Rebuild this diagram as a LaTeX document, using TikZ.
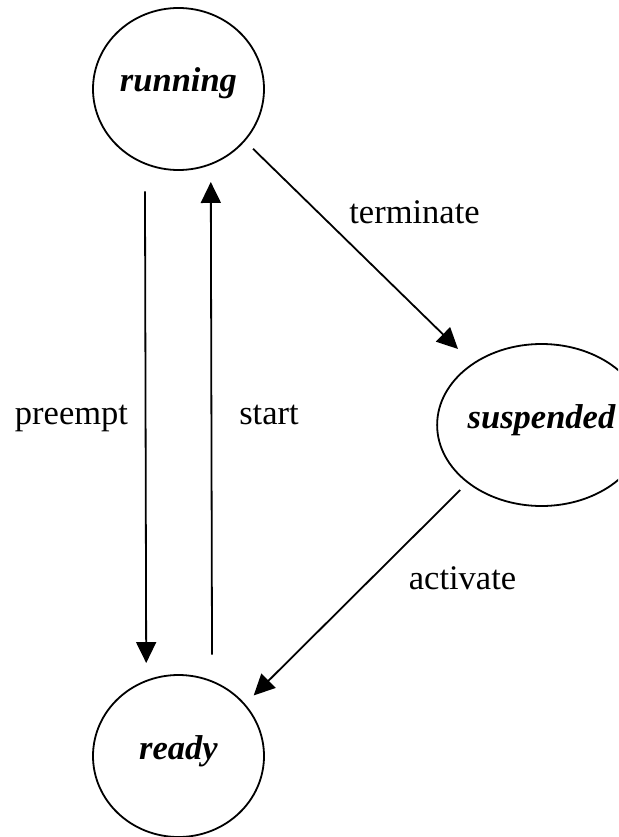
\documentclass[tikz,border=0pt]{standalone}
\usepackage{fontspec}
\setmainfont{Liberation Serif}
\usetikzlibrary{arrows.meta,shapes.geometric}
\begin{document}
\begin{tikzpicture}[x=1pt,y=-1pt,
  state/.style={draw,ellipse,line width=1.8pt,minimum width=171pt,minimum height=162pt,
    inner sep=0pt,text height=8pt,text depth=2pt,
    font=\fontsize{34.5}{40}\selectfont\bfseries\itshape},
  trans/.style={line width=1.8pt,-{Triangle[length=21pt,width=20pt]}},
  lbl/.style={anchor=base,inner sep=0pt,font=\fontsize{34.5}{40}\selectfont}]
  \clip (0,0) rectangle (618,837);
  \useasboundingbox (0,0) rectangle (618,837);

  % states
  \node[state] (running) at (178.5,89) {running};
  \node[state] (ready) at (178.5,756) {ready};
  \node[state] (suspended) at (541.5,425) {suspended};

  % transitions
  \coordinate (tEnd) at (458,349);
  \draw[trans,shorten <=27pt,shorten >=17pt] (running.246.9) -- (ready.113.1);
  \draw[trans,shorten <=26pt,shorten >=17pt] (ready.66.6) -- (running.293.4);
  \draw[trans,shorten <=11pt] (running.-38) -- (tEnd);
  \draw[trans,shorten <=10pt,shorten >=12pt] (suspended.218.3) -- (ready.38);

  % labels
  \node[lbl] (lpre) at (71.5,424) {preempt};
  \node[lbl] (lsta) at (269,424) {start};
  \node[lbl] (lter) at (414.5,223) {terminate};
  \node[lbl] (lact) at (462.5,589) {activate};
\end{tikzpicture}
\end{document}
